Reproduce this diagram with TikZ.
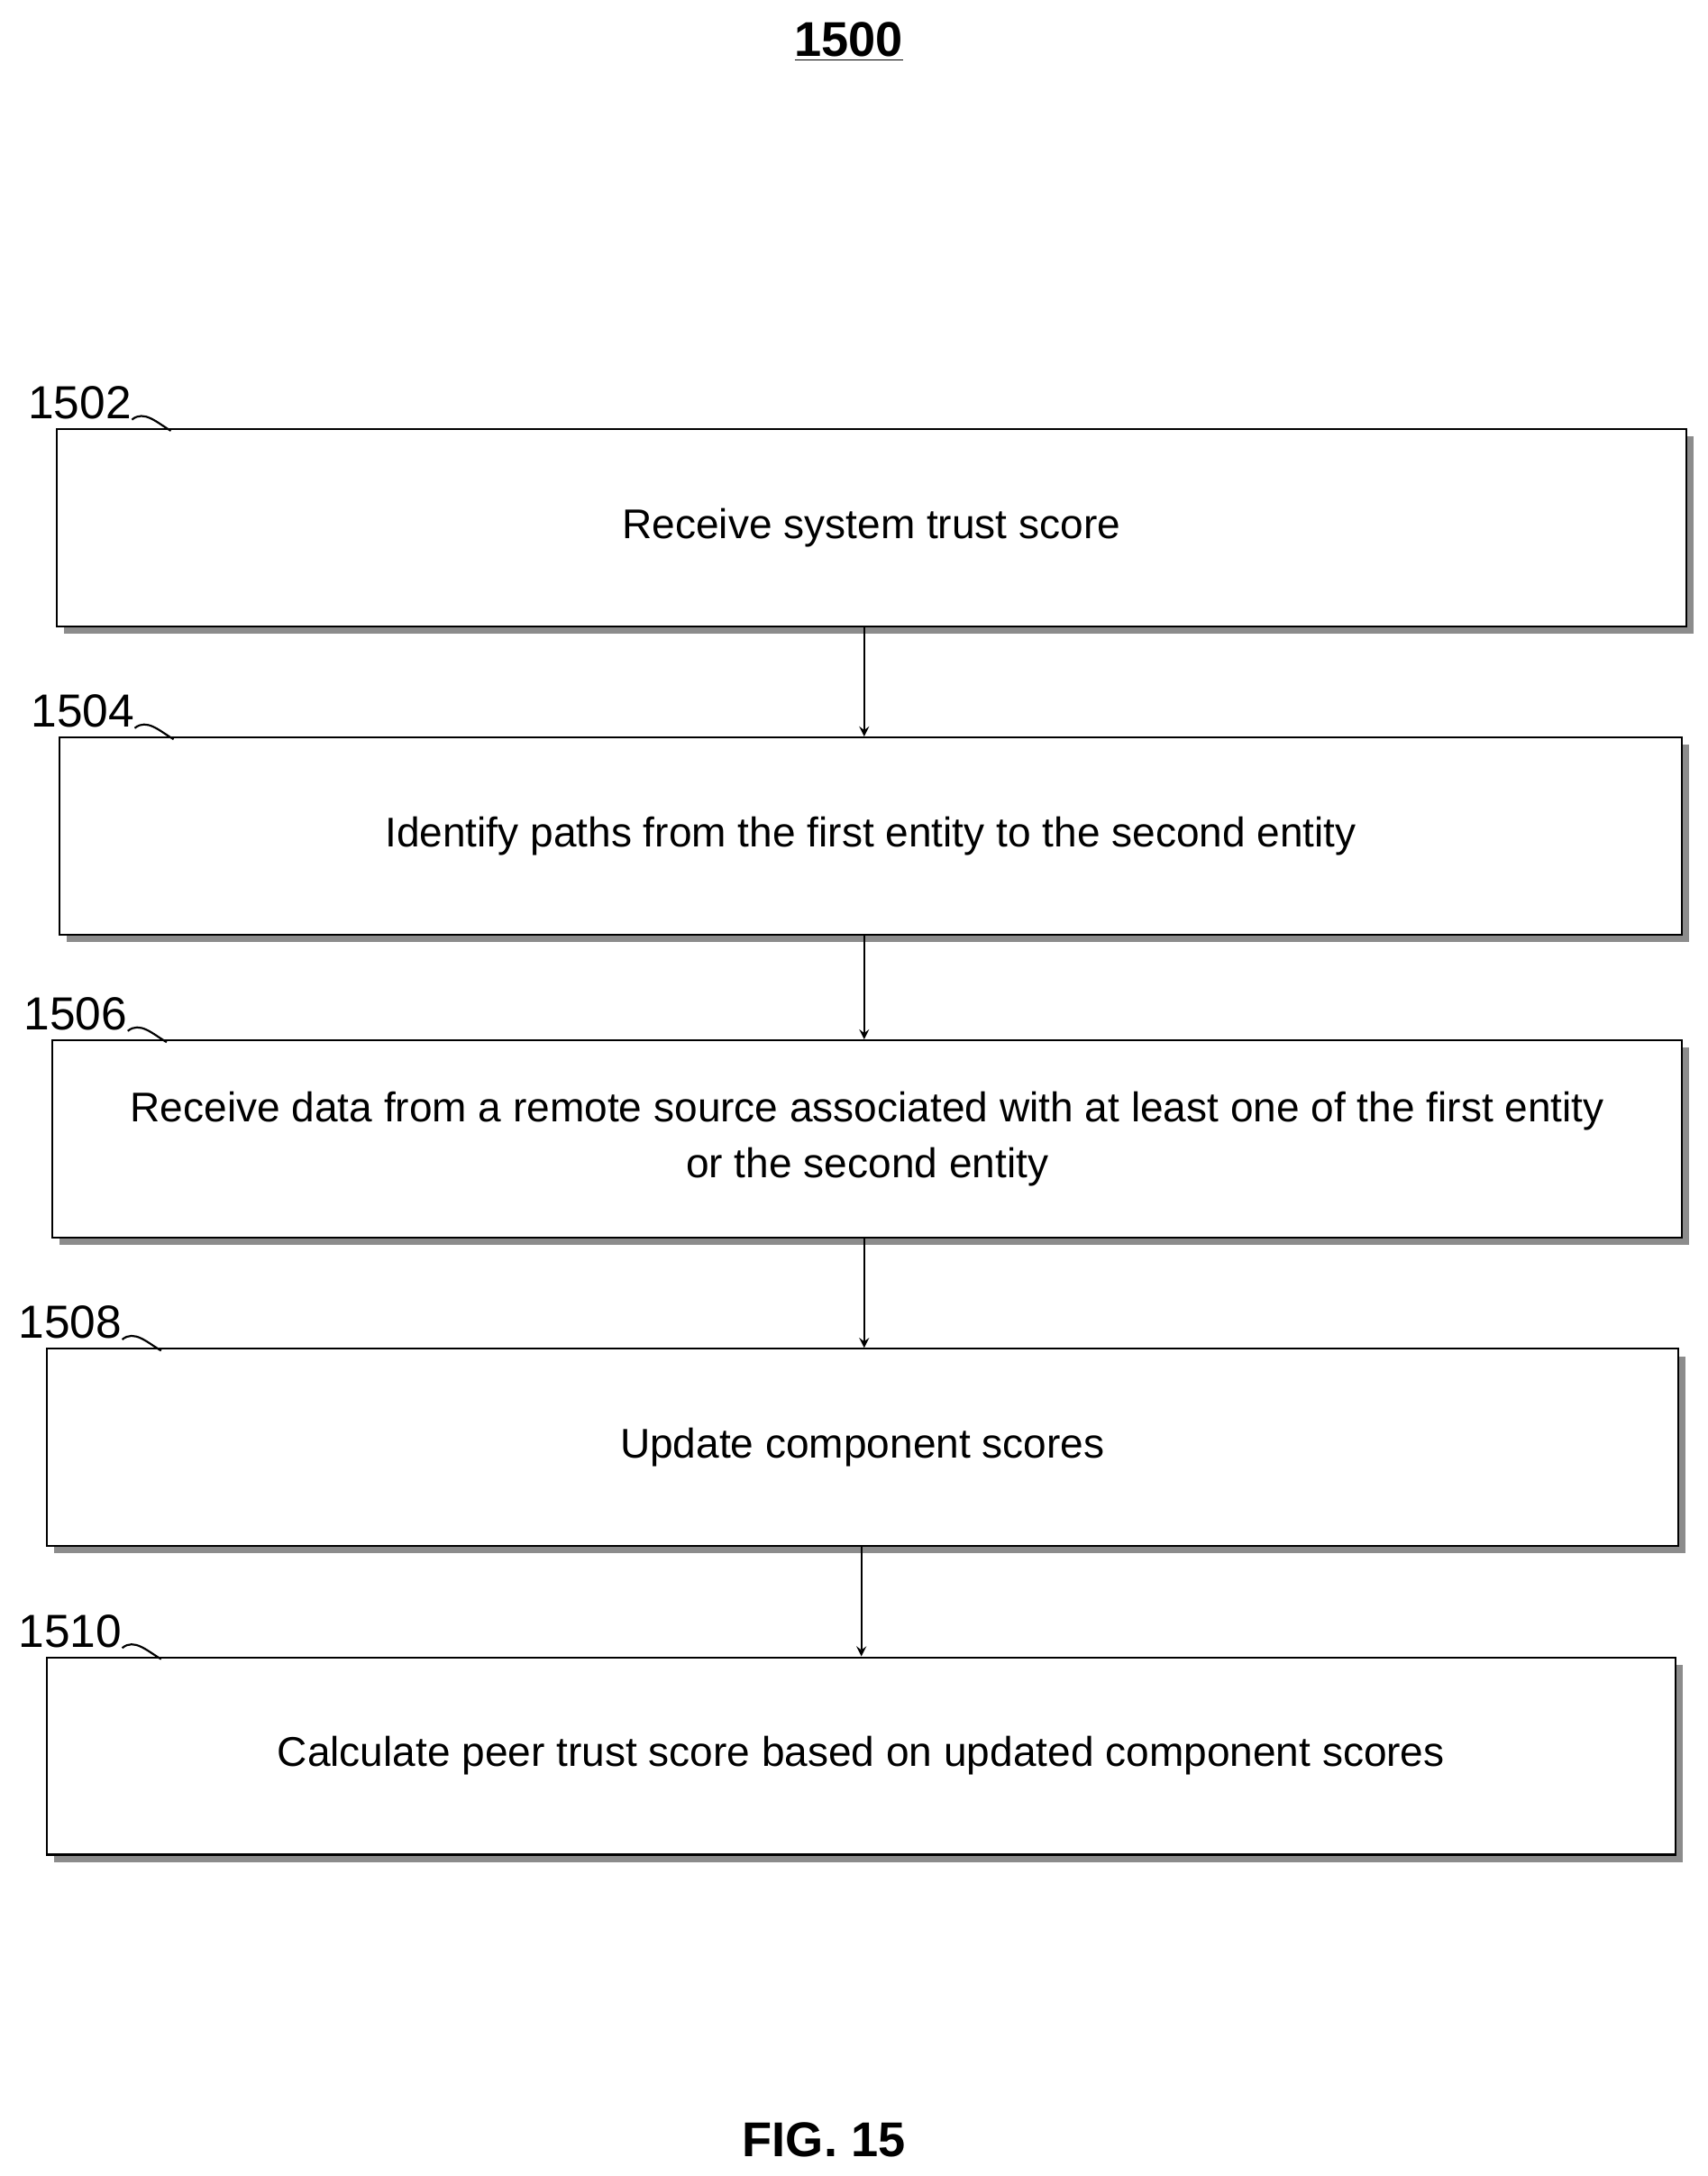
\documentclass[tikz,border=0pt]{standalone}
\usepackage{fontspec}
\setmainfont{Liberation Sans}
\usetikzlibrary{positioning,calc}
\begin{document}
\begin{tikzpicture}[x=0.02cm,y=-0.02cm,
		>=stealth,
		flowbox/.style={
			draw,
			thick,
			minimum height=2.84cm,
			align=center,
			font=\fontsize{17}{23}\selectfont
		},
		shade/.style={
			fill=black!45
		},
		ref/.style={
			font=\fontsize{19}{23}\selectfont,
			anchor=south west,
			inner sep=0pt
		},
		flow/.style={
			->,
			thick
		}
		]
		\useasboundingbox (0,0) rectangle (1229,1566);
		\node[font=\bfseries\fontsize{20}{24}\selectfont] (TITLE) at (611,30) {\underline{1500}};
		\node[font=\bfseries\fontsize{20}{24}\selectfont] (FIG) at (593,1540) {FIG. 15};
		
		% boxes: name, left, top, right, reference, text
		\foreach \n/\l/\t/\r/\lab/\txt in {
			A/40/308/1213/1502/{Receive system trust score},
			B/42/530/1210/1504/{Identify paths from the first entity to the second entity},
			C/37/748/1210/1506/{Receive data from a remote source associated with at least one of the first entity\\or the second entity},
			D/33/970/1207/1508/{Update component scores},
			E/33/1192/1205/1510/{Calculate peer trust score based on updated component scores}}{
			\pgfmathsetmacro\boxw{(\r-\l)*0.02}
			\fill[shade] (\l+6,\t+6) rectangle (\r+6,\t+148);
			\node[flowbox,fill=white,minimum width=\boxw cm,anchor=north west] (\n) at (\l,\t) {\txt};
			\node[ref] (L\n) at (\l-20,\t-6) {\lab};
			\draw[thick] (L\n.south east) to[out=40,in=150] ++(28,8);
		}
		
		\draw[flow] (A.south -| 622,0) -- (B.north -| 622,0);
		\draw[flow] (B.south -| 622,0) -- (C.north -| 622,0);
		\draw[flow] (C.south -| 622,0) -- (D.north -| 622,0);
		\draw[flow] (D.south -| 620,0) -- (E.north -| 620,0);
\end{tikzpicture}
\end{document}
